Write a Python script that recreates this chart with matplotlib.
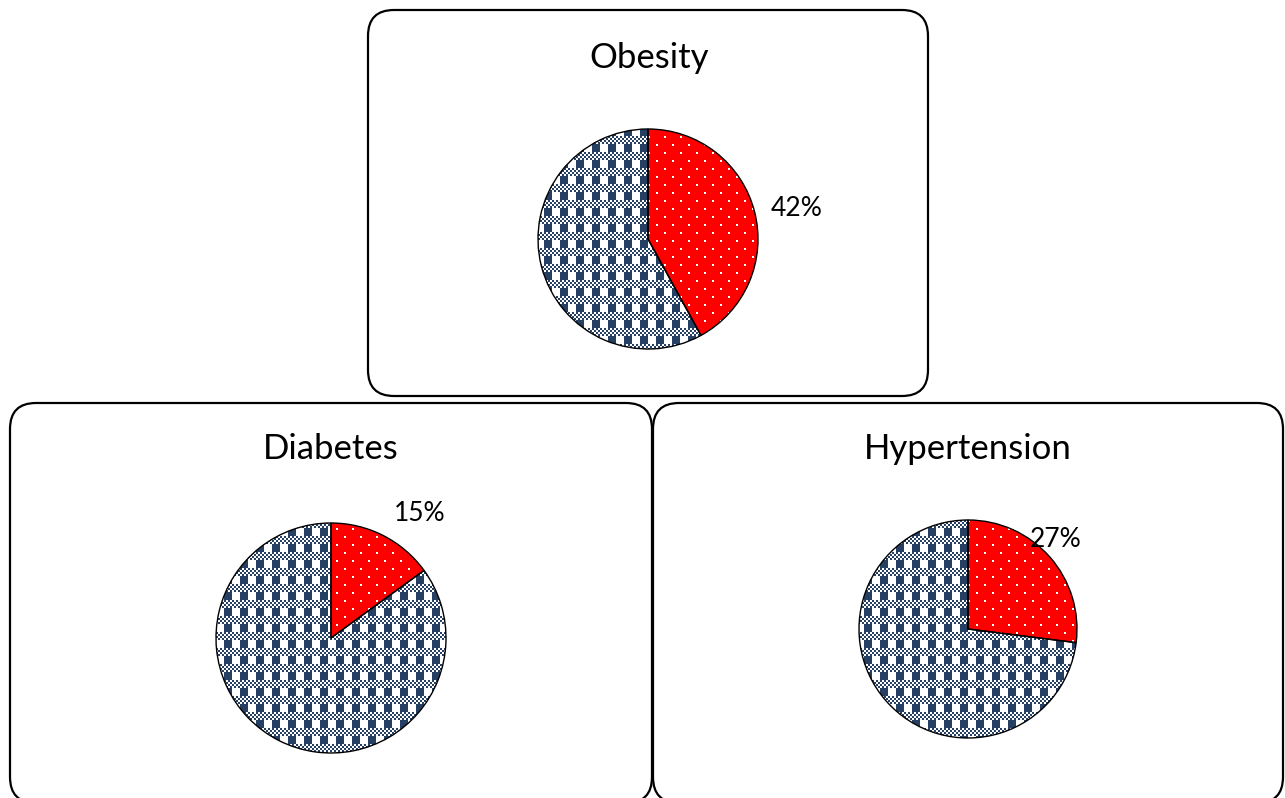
import numpy as np
import matplotlib
matplotlib.use('Agg')
import matplotlib.pyplot as plt
from matplotlib.patches import FancyBboxPatch

# data
titles = ['Obesity', 'Diabetes', 'Hypertension']
shares = [42, 15, 27]          # percent of the red slice

# layout (pixels, y measured from top of the picture)
W, H = 1285, 798
boxes = [(368, 10, 560, 386), (10, 403, 642, 400), (653, 403, 630, 400)]
centers = [(648, 239), (331, 638), (968, 629)]
radii = [110, 115, 109]
title_pos = [(649, 68), (331, 459), (968, 459)]
label_off = [(149, 23), (89, 117), (88, 82)]   # label baseline relative to pie centre

navy = np.array([0x26, 0x40, 0x64]) / 255
red = np.array([1.0, 0.0, 0.0])
white = np.ones(3)

# gingham-like tile for the remainder, dotted red for the share
yy, xx = np.mgrid[0:H, 0:W]
ty, tx = yy % 16, xx % 16
block = (ty < 8) & (tx < 8)
checker = (ty >= 8) & (((ty // 2) + (tx // 2)) % 2 == 0)
dark = block | checker
plaid = np.where(dark[..., None], navy, white)

dots = ((yy % 8) < 2) & (((xx + 8 * ((yy // 8) % 2)) % 16) < 2)
dotted = np.where(dots[..., None], white, red)

fig = plt.figure(figsize=(W / 100, H / 100), dpi=100)
ax = fig.add_axes([0, 0, 1, 1])

for (bx, by, bw, bh) in boxes:
    ax.add_patch(FancyBboxPatch((bx, H - by - bh), bw, bh,
                                boxstyle='round,pad=0,rounding_size=26',
                                fc='white', ec='black', lw=1.6, zorder=1))

for i in range(3):
    cx, cy = centers[i]
    vals = [shares[i], 100 - shares[i]]
    wedges, _ = ax.pie(vals, center=(cx, H - cy), radius=radii[i],
                       startangle=90, counterclock=False,
                       colors=['none', 'none'],
                       wedgeprops=dict(edgecolor='black', linewidth=1.0, zorder=4))
    for w, img in zip(wedges, [dotted, plaid]):
        im = ax.imshow(img, extent=(0, W, 0, H), origin='upper',
                       interpolation='nearest', zorder=3)
        im.set_clip_path(w)
    tx_, ty_ = title_pos[i]
    ax.text(tx_, H - ty_, titles[i], ha='center', va='baseline',
            fontsize=25, family='Lato', zorder=5)
    ox, oy = label_off[i]
    ax.text(cx + ox, H - cy + oy, f'{shares[i]}%', ha='center', va='baseline',
            fontsize=19, family='Lato', zorder=5)

ax.set_xlim(0, W)
ax.set_ylim(0, H)
ax.set_aspect('auto')
ax.axis('off')

fig.savefig('out.png', dpi=100)
